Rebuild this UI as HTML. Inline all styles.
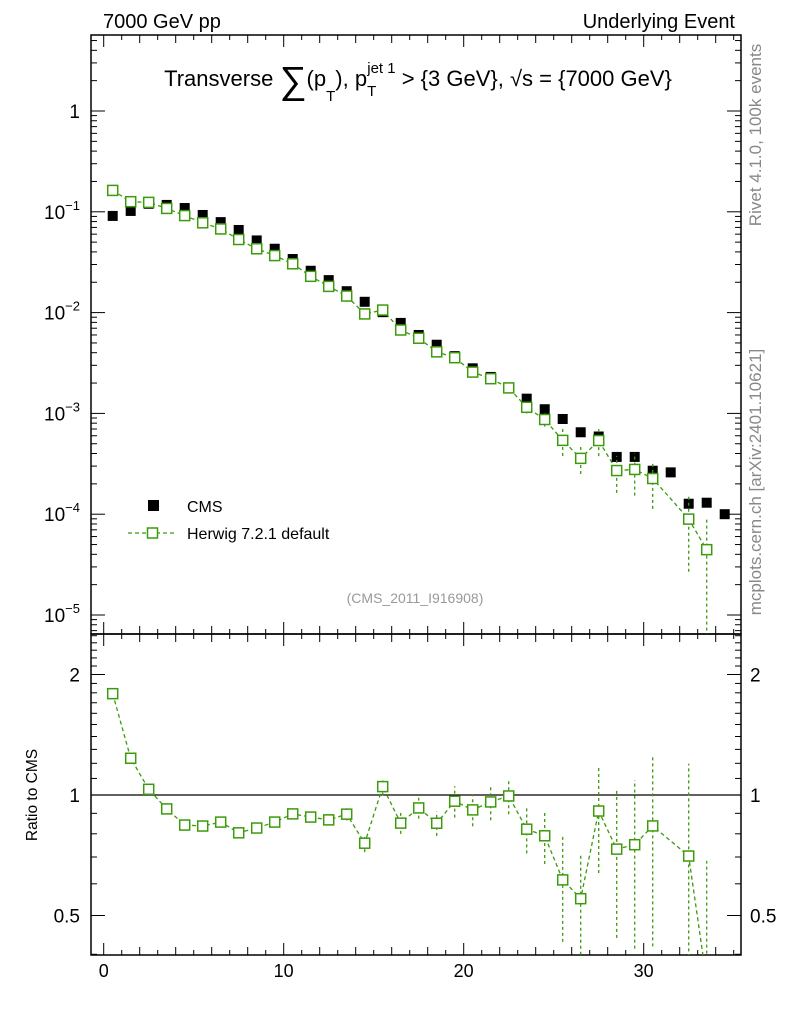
<!DOCTYPE html>
<html><head><meta charset="utf-8"><style>
html,body{margin:0;padding:0;background:#fff;overflow:hidden;width:786px;height:1024px;}
svg{display:block;font-family:"Liberation Sans",sans-serif;}
</style></head><body>
<svg id="chart" width="786" height="1024" viewBox="0 0 786 1024" xmlns="http://www.w3.org/2000/svg">
<text x="103" y="28" font-size="20">7000 GeV pp</text>
<text x="735" y="28" font-size="20" text-anchor="end">Underlying Event</text>
<text x="418" y="86" font-size="22" text-anchor="middle">Transverse <tspan font-size="38" dy="7">∑</tspan><tspan dy="-7">(p</tspan><tspan font-size="15" dy="15">T</tspan><tspan dy="-15">), p</tspan><tspan font-size="15" dy="10">T</tspan><tspan font-size="15" dx="-9" dy="-23">jet 1</tspan><tspan dy="13"> &gt; {3 GeV}, √s = {7000 GeV}</tspan></text>
<text transform="translate(761,135) rotate(-90)" font-size="17" fill="#888" text-anchor="middle">Rivet 4.1.0,  100k events</text>
<text transform="translate(761,482) rotate(-90)" font-size="17" fill="#888" text-anchor="middle">mcplots.cern.ch [arXiv:2401.10621]</text>
<text x="415" y="603" font-size="14" fill="#999" text-anchor="middle">(CMS_2011_I916908)</text>
<text transform="translate(37,795) rotate(-90)" font-size="15.5" text-anchor="middle">Ratio to CMS</text>
<g>
<rect x="148" y="500" width="11" height="11" fill="#000"/>
<text x="187" y="512" font-size="16">CMS</text>
<line x1="128" y1="533" x2="175" y2="533" stroke="#3c9a0c" stroke-width="1.3" stroke-dasharray="4,3"/>
<rect x="147.5" y="528" width="10" height="10" fill="#fff" stroke="#3c9a0c" stroke-width="1.5"/>
<text x="187" y="539" font-size="16">Herwig 7.2.1 default</text>
</g>
<g id="axes"></g>
<g id="marks"></g>
</svg>
<script>
const binCenters=[0.5,1.5,2.5,3.5,4.5,5.5,6.5,7.5,8.5,9.5,10.5,11.5,12.5,13.5,14.5,15.5,16.5,17.5,18.5,19.5,20.5,21.5,22.5,23.5,24.5,25.5,26.5,27.5,28.5,29.5,30.5,31.5,32.5,33.5,34.5];
const cmsValues=[0.091,0.102,0.12,0.117,0.109,0.093,0.079,0.066,0.052,0.043,0.034,0.026,0.021,0.0163,0.0128,0.0101,0.0079,0.006,0.0048,0.0037,0.0028,0.0023,0.0018,0.0014,0.0011,0.00088,0.00065,0.00059,0.00037,0.00037,0.00027,0.00026,0.000127,0.00013,0.0001];
const herwigValues=[0.163,0.126,0.124,0.108,0.0917,0.0778,0.0676,0.0531,0.043,0.0368,0.0305,0.0229,0.0182,0.0146,0.0097,0.0106,0.00672,0.00557,0.00408,0.00357,0.00257,0.00221,0.00179,0.00115,0.00087,0.00054,0.000358,0.000538,0.000271,0.000278,0.000226,null,0.0000894,0.0000445,null];
const herwigRelErr=[0.01,0.01,0.01,0.01,0.01,0.01,0.012,0.015,0.015,0.02,0.02,0.025,0.03,0.035,0.05,0.05,0.06,0.06,0.07,0.09,0.09,0.1,0.1,0.13,0.15,0.3,0.3,0.3,0.4,0.45,0.5,0,0.7,1.0,0];
const mainTicks=[1,0.1,0.01,0.001,0.0001,0.00001];
const mainTickLabels=["1","10^-1","10^-2","10^-3","10^-4","10^-5"];
const ratioTicks=[2,1,0.5];
const ratioTickLabels=["2","1","0.5"];
const xTicks=[0,10,20,30];

const NS="http://www.w3.org/2000/svg";
const L=91,R=741,T=35,MB=634,B=955;
const green="#3c9a0c";
const MS=10;
function xs(v){return 103.7+18*v;}
function ym(v){return 111+(-Math.log10(v))*100.8;}
function yr(v){return 795-Math.log2(v)*120.5;}
function el(tag,attrs,parent){const e=document.createElementNS(NS,tag);for(const k in attrs)e.setAttribute(k,attrs[k]);parent.appendChild(e);return e;}
const axes=document.getElementById('axes'),marks=document.getElementById('marks');

const f1=el('rect',{x:L,y:T,width:R-L,height:MB-T,fill:'none',stroke:'#000','stroke-width':1.5},axes);


const f2=el('rect',{x:L,y:MB,width:R-L,height:B-MB,fill:'none',stroke:'#000','stroke-width':1.5},axes);



for(let v=0;v<=35;v++){
  const len=(v%10===0)?12:(v%2===0?8:5);
  const x=xs(v);
  for(const [y0,dir] of [[T,1],[MB,-1],[MB,1],[B,-1]]){
    const t=el('line',{x1:x,x2:x,y1:y0,y2:y0+dir*len,stroke:'#000','stroke-width':1},axes);
    
    
  }
}
xTicks.forEach(v=>{
  const t=el('text',{x:xs(v),y:977,'font-size':18,'text-anchor':'middle'},axes);
  t.textContent=String(v);
  
  
});

for(let d=-6;d<=0;d++){
  for(let m=1;m<=9;m++){
    const v=m*Math.pow(10,d);const y=ym(v);
    if(y<T||y>MB)continue;
    const len=m===1?14:6;
    for(const [x0,dir] of [[L,1],[R,-1]]){
      const t=el('line',{x1:x0,x2:x0+dir*len,y1:y,y2:y,stroke:'#000','stroke-width':1},axes);
      
      
    }
  }
}
mainTicks.forEach((v,i)=>{
  const t=el('text',{x:80,y:ym(v)+7,'font-size':19,'text-anchor':'end'},axes);
  const lab=mainTickLabels[i];
  if(lab.indexOf('^')>=0){
    const p=lab.split('^');
    t.textContent=p[0];
    const s=el('tspan',{'font-size':13,dy:-9},t);s.textContent=p[1].replace('-','−');
  } else t.textContent=lab;
  
  
});

[0.4,0.5,0.6,0.7,0.8,0.9,1,1.1,1.2,1.3,1.4,1.5,1.6,1.7,1.8,1.9,2,2.1,2.2,2.3,2.4,2.5].forEach(v=>{
  const y=yr(v);if(y<MB||y>B)return;
  const major=ratioTicks.indexOf(v)>=0;
  const len=major?14:6;
  for(const [x0,dir] of [[L,1],[R,-1]]){
    const t=el('line',{x1:x0,x2:x0+dir*len,y1:y,y2:y,stroke:'#000','stroke-width':1},axes);
    
    
  }
});
ratioTicks.forEach((v,i)=>{
  for(const [x,anc] of [[80,'end'],[750,'start']]){
    const t=el('text',{x:x,y:yr(v)+7,'font-size':19,'text-anchor':anc},axes);
    t.textContent=ratioTickLabels[i];
    
    
  }
});
const ref=el('line',{x1:L,x2:R,y1:yr(1),y2:yr(1),stroke:'#000','stroke-width':1.3},axes);



const defs=el('defs',{},marks);
const c1=el('clipPath',{id:'cm'},defs);el('rect',{x:L,y:T,width:R-L,height:MB-T},c1);
const c2=el('clipPath',{id:'cr'},defs);el('rect',{x:L,y:MB,width:R-L,height:B-MB},c2);
const gm=el('g',{'clip-path':'url(#cm)'},marks);
const gr=el('g',{'clip-path':'url(#cr)'},marks);

let pts=[],rpts=[];
binCenters.forEach((c,i)=>{
  const h=herwigValues[i];if(h==null)return;
  pts.push(xs(c)+','+ym(h));
  rpts.push(xs(c)+','+yr(h/cmsValues[i]));
});
const hl=el('polyline',{points:pts.join(' '),fill:'none',stroke:green,'stroke-width':1.3,'stroke-dasharray':'4,3'},gm);


const rl=el('polyline',{points:rpts.join(' '),fill:'none',stroke:green,'stroke-width':1.3,'stroke-dasharray':'4,3'},gr);



binCenters.forEach((c,i)=>{
  const x=xs(c);
  const cm=el('rect',{x:x-5,y:ym(cmsValues[i])-5,width:10,height:10,fill:'#000'},gm);
  
  
  const h=herwigValues[i];if(h==null)return;
  const e=herwigRelErr[i];
  const lo=Math.max(h*(1-e),1e-7),hi=h*(1+e);
  const eb=el('line',{x1:x,x2:x,y1:ym(lo),y2:ym(hi),stroke:green,'stroke-width':1.3,'stroke-dasharray':'3,3'},gm);
  
  
  const hm=el('rect',{x:x-MS/2,y:ym(h)-MS/2,width:MS,height:MS,fill:'#fff',stroke:green,'stroke-width':1.5},gm);
  
  
  const r=h/cmsValues[i];
  const rlo=Math.max(r*(1-e),0.01),rhi=r*(1+e);
  const rb=el('line',{x1:x,x2:x,y1:yr(rlo),y2:yr(rhi),stroke:green,'stroke-width':1.3,'stroke-dasharray':'3,3'},gr);
  
  
  const rm=el('rect',{x:x-MS/2,y:yr(r)-MS/2,width:MS,height:MS,fill:'#fff',stroke:green,'stroke-width':1.5},gr);
  
  
});
</script>
</body></html>
